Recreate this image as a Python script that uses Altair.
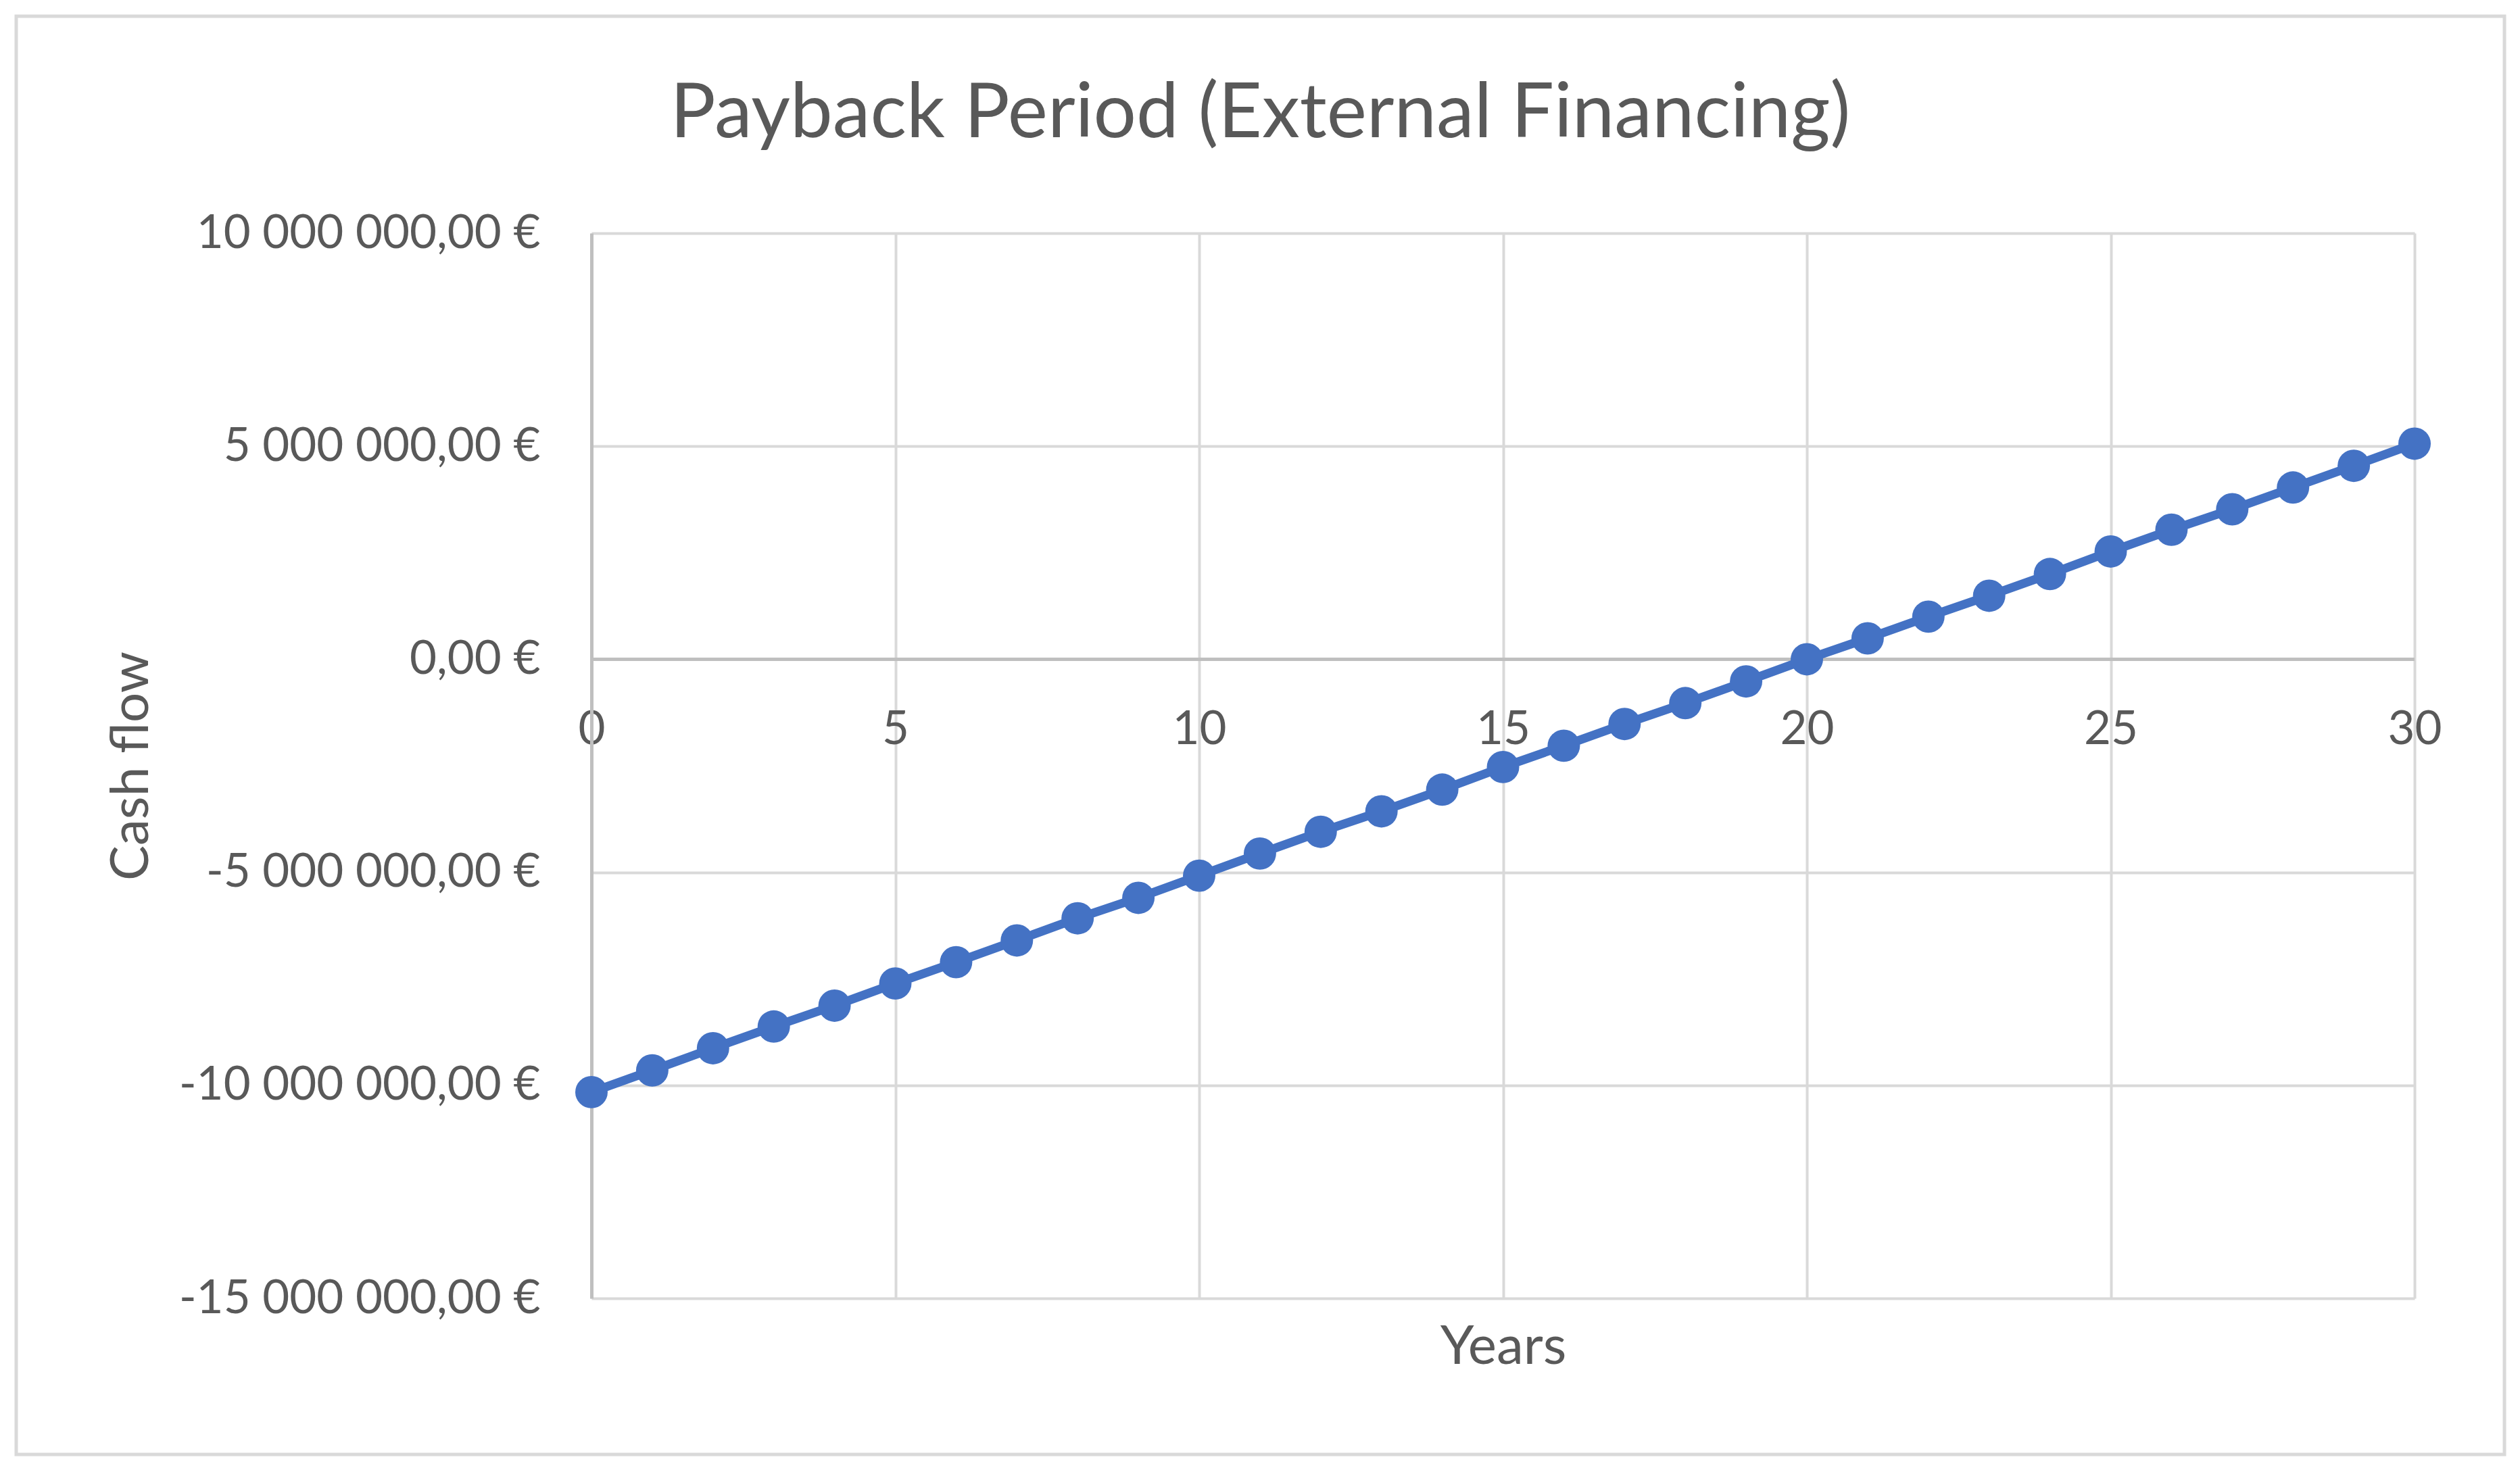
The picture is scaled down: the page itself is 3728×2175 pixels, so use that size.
import altair as alt
import pandas as pd

# ---- data ----
years = list(range(31))
cash_flow = [
    -10160000, -9650000, -9130000, -8620000, -8130000, -7610000, -7110000,
    -6600000, -6080000, -5600000, -5080000, -4560000, -4050000, -3570000,
    -3060000, -2530000, -2030000, -1520000, -1030000, -520000, 0,
    490000, 1000000, 1490000, 2000000, 2530000, 3040000, 3520000,
    4030000, 4540000, 5060000,
]
x_ticks = [0, 5, 10, 15, 20, 25, 30]
y_ticks = [-15000000, -10000000, -5000000, 0, 5000000, 10000000]

title_text = "Payback Period (External Financing)"
x_title = "Years"
y_title = "Cash flow"

df = pd.DataFrame({"year": years, "cash": cash_flow})

FONT = "Lato"
TXT = "#595959"
GRID = "#d9d9d9"
AXIS = "#bfbfbf"
BLUE = "#4472C4"

W, H = 2697, 1576

xscale = alt.Scale(domain=[0, 30], nice=False, zero=False)
yscale = alt.Scale(domain=[-15000000, 10000000], nice=False, zero=False)

label_expr = ("(datum.value < 0 ? '-' : '') + "
              "replace(replace(format(abs(datum.value), ',d'), ',', ' '), ',', ' ') + ',00 €'")

y_axis = alt.Axis(
    values=y_ticks, labelExpr=label_expr, ticks=False, labelLimit=0,
    domain=True, domainColor=AXIS, domainWidth=5,
    grid=True, gridColor=GRID, gridWidth=4,
    labelFont=FONT, labelFontSize=69, labelColor=TXT, labelPadding=76,
    title=y_title, titleFont=FONT, titleFontSize=78, titleFontWeight="normal",
    titleColor=TXT, titleX=-680, titleY=H * 0.5, titleAngle=270,
    titleBaseline="middle", titleAlign="center")

base = alt.Chart(df)

line = base.mark_line(color=BLUE, strokeWidth=13).encode(
    x=alt.X("year:Q", scale=xscale, axis=alt.Axis(
        values=x_ticks, orient="bottom", labels=False, ticks=False, domain=False,
        grid=True, gridColor=GRID, gridWidth=4,
        title=x_title, titleFont=FONT, titleFontSize=80, titleFontWeight="normal",
        titleColor=TXT, titleY=72, titleBaseline="middle")),
    y=alt.Y("cash:Q", scale=yscale, axis=y_axis),
)

points = base.mark_circle(size=2300, color=BLUE, opacity=1).encode(
    x=alt.X("year:Q", scale=xscale, axis=alt.Axis(
        values=x_ticks, orient="bottom", offset=-946, grid=False, domain=False,
        ticks=False, labelFont=FONT, labelFontSize=69, labelColor=TXT,
        labelPadding=70, labelFlush=False, title=None)),
    y=alt.Y("cash:Q", scale=yscale, axis=y_axis),
)

zero_rule = alt.Chart(pd.DataFrame({"cash": [0]})).mark_rule(
    color=AXIS, strokeWidth=5).encode(
    y=alt.Y("cash:Q", scale=yscale, axis=y_axis))

border = alt.Chart(alt.Data(values=[{}])).mark_rect(
    fill="transparent", stroke=GRID, strokeWidth=5).encode(
    x=alt.value(-851), x2=alt.value(2830), y=alt.value(-321), y2=alt.value(1807))

chart = alt.layer(border, zero_rule, line, points).resolve_axis(
    x="independent").properties(
    width=W, height=H,
    padding={"left": 867, "top": 337, "right": 140, "bottom": 239},
    autosize=alt.AutoSizeParams(type="none"),
    title=alt.Title(title_text, font=FONT, fontSize=112, fontWeight="normal",
                    color=TXT, anchor="middle", frame="group", dx=-359,
                    offset=-293, baseline="alphabetic"),
).configure_view(strokeWidth=0).configure(background="white")

chart.save("out.html", embed_options={"renderer": "svg", "actions": False})
